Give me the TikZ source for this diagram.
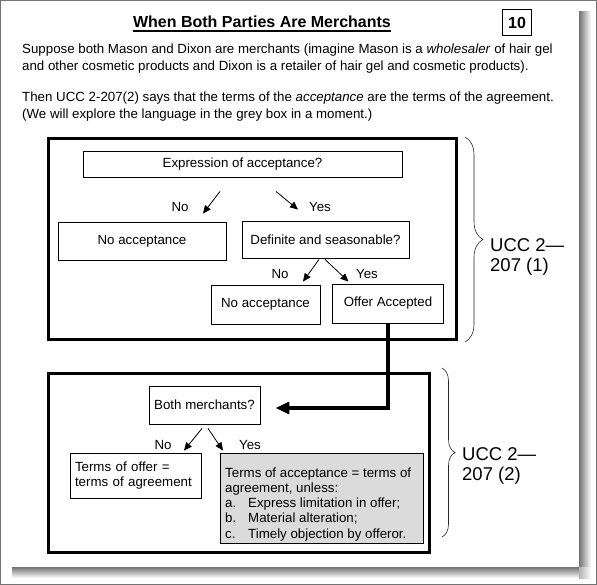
\documentclass[tikz,border=0pt]{standalone}
\usepackage{fontspec}
\setmainfont{Liberation Sans}
\usetikzlibrary{arrows.meta,decorations.pathreplacing,calc}
\begin{document}
\begin{tikzpicture}[x=1pt,y=-1pt,
  txt/.style={font=\fontsize{13.3}{17}\selectfont,inner sep=0pt},
  box/.style={draw,line width=0.9pt,inner sep=0pt,font=\fontsize{13.3}{15}\selectfont,align=center},
  frame/.style={draw,line width=3pt},
  arr/.style={line width=0.8pt,-{Triangle[length=8pt,width=7pt]}},
  bigarr/.style={line width=4pt,-{Triangle[length=14pt,width=12pt]}},
  lbl/.style={font=\fontsize{13.3}{15}\selectfont,inner sep=0pt},
  ucc/.style={font=\fontsize{18.5}{20}\selectfont,align=left,inner sep=0pt,anchor=west},
  brc/.style={decorate,line width=0.6pt,draw=black!85}
]
\useasboundingbox (0,0) rectangle (597,585);
\fill[white] (0,0) rectangle (597,585);
% page shadow
\shade[left color=black!55,right color=white] (579,12) rectangle (591,567);
\shade[top color=black!55,bottom color=white] (12,567) rectangle (579,578);
\shade[left color=black!30,right color=white] (579,567) rectangle (591,578);
\fill[white] (1,1) rectangle (579,567);
\draw[black!55,line width=1pt] (0.5,0.5) rectangle (596.5,584.5);

% title
\node[inner sep=0pt,anchor=base,font=\bfseries\fontsize{16}{18}\selectfont] (title) at (262,28) {When Both Parties Are Merchants};
\draw[line width=1.3pt] ([yshift=-3pt]title.base west) -- ([yshift=-3pt]title.base east);
\node[draw,line width=0.9pt,minimum width=29pt,minimum height=26pt,inner sep=0pt,font=\bfseries\fontsize{16}{18}\selectfont] (num) at (517,22.5) {10};

% paragraphs
\node[txt,anchor=base west] (p1) at (22,54) {Suppose both Mason and Dixon are merchants (imagine Mason is a \textit{wholesaler} of hair gel};
\node[txt,anchor=base west] (p2) at (22,71) {and other cosmetic products and Dixon is a retailer of hair gel and cosmetic products).};
\node[txt,anchor=base west] (p3) at (22,102) {Then UCC 2-207(2) says that the terms of the \textit{acceptance} are the terms of the agreement.};
\node[txt,anchor=base west] (p4) at (22,119) {(We will explore the language in the grey box in a moment.)};

% frames
\draw[frame] (48,139) rectangle (456,339);
\draw[frame] (48,373) rectangle (429,552);

% top flow
\node[box,minimum width=319pt,minimum height=26pt] (expr) at (242.5,164) {Expression of acceptance?};
\node[box,minimum width=168pt,minimum height=38pt] (noacc1) at (142,241) {No acceptance};
\node[box,minimum width=167pt,minimum height=37pt] (defin) at (325.5,239.5) {Definite and seasonable?};
\node[box,minimum width=109pt,minimum height=39pt] (noacc2) at (265.5,304.5) {No acceptance};
\node[box,minimum width=111pt,minimum height=39pt] (offeracc) at (388,303.5) {Offer Accepted};

\draw[arr] ($(expr.south)+(-22.5,14)$) -- ($(noacc1.north)+(61,-8)$);
\draw[arr] ($(expr.south)+(33.5,14)$) -- ($(defin.north)+(-27.5,-11)$);
\draw[arr] ($(defin.south)+(-6.5,1)$) -- ($(noacc2.north)+(37.5,-3)$);
\draw[arr] ($(defin.south)+(-0.5,1)$) -- ($(offeracc.north)+(-39.5,-2)$);
\node[lbl] (l1) at (180,207) {No};
\node[lbl] (l2) at (320,207) {Yes};
\node[lbl] (l3) at (280,274) {No};
\node[lbl] (l4) at (367,274) {Yes};

% bottom flow
\node[box,minimum width=111pt,minimum height=38pt] (both) at (204.5,405) {Both merchants?};
\node[box,minimum width=131pt,minimum height=45pt,text width=121pt,inner xsep=5pt,align=left] (toffer) at (135.5,475.5) {Terms of offer =\\terms of agreement};
\node[box,fill=black!14,minimum width=203pt,minimum height=90pt] (grey) at (321.5,498) {};
\node[font=\fontsize{13.3}{15.2}\selectfont,inner sep=0pt,anchor=north west,align=left] (greytxt) at (225,467.5) {Terms of acceptance = terms of\\agreement, unless:\\\makebox[23pt][l]{a.}Express limitation in offer;\\\makebox[23pt][l]{b.}Material alteration;\\\makebox[23pt][l]{c.}Timely objection by offeror.};

\draw[arr] ($(both.south)+(-2.5,4)$) -- ($(toffer.north)+(48.5,-2)$);
\draw[arr] ($(both.south)+(3.5,4)$) -- ($(grey.north)+(-98.5,-2)$);
\node[lbl] (l5) at (163,445) {No};
\node[lbl] (l6) at (250,445) {Yes};

\draw[bigarr] (offeracc.south) |- ($(both.east)+(15,3)$);

% braces
\draw[brc,decoration={brace,amplitude=18pt}] (465,137) -- (465,342);
\node[ucc] (ucc1) at (490,257) {UCC 2—\\207 (1)};
\draw[brc,decoration={brace,amplitude=13pt}] (442,368) -- (442,537);
\node[ucc] (ucc2) at (462,466) {UCC 2—\\207 (2)};
\end{tikzpicture}
\end{document}
